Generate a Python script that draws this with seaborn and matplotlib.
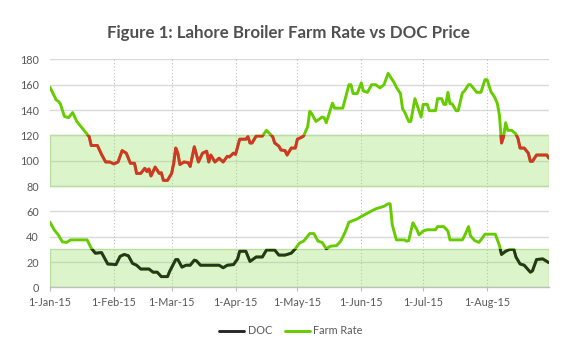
import numpy as np
import pandas as pd
import matplotlib
matplotlib.use("Agg")
import matplotlib.pyplot as plt
import matplotlib.dates as mdates
import matplotlib.transforms as mtransforms
from matplotlib.patches import Rectangle
from matplotlib.lines import Line2D
import seaborn as sns

# ---------------- data (day offsets from 1-Jan-2015) ----------------
farm_days = [0, 3, 4, 5, 7, 9, 11, 13, 15, 17, 19, 20, 23, 25, 27, 29, 31, 33, 35, 37,
             39, 41, 42, 44, 46, 47, 48, 49, 51, 53, 54, 55, 57, 59, 60, 61, 62, 63, 65, 67,
             68, 70, 72, 74, 76, 77, 78, 80, 82, 84, 86, 87, 89, 90, 92, 95, 96, 97, 98, 100,
             103, 105, 108, 109, 111, 112, 114, 115, 117, 119, 120, 122, 123, 125, 126, 127, 129, 132, 133, 134,
             137, 138, 142, 145, 146, 147, 149, 151, 152, 154, 156, 158, 160, 162, 164, 165, 167, 168, 170, 171,
             172, 174, 175, 177, 180, 181, 183, 184, 187, 188, 190, 191, 192, 193, 194, 195, 197, 198, 200, 201,
             203, 204, 207, 209, 211, 212, 214, 215, 216, 217, 218, 219, 220, 221, 222, 224, 226, 227, 228, 230,
             232, 233, 234, 236, 241, 242]
farm_rate = [158, 148, 147, 145, 135, 134, 138, 131, 127, 123, 119, 112, 112, 105, 99, 99, 97.5, 99, 108, 106,
             98, 98, 90, 90, 94, 91.5, 93.5, 88, 95, 90, 90.5, 84.5, 84.5, 90, 98, 110, 106, 97, 99, 98.5,
             95.5, 111, 99, 106, 107.5, 99, 104.5, 99, 102, 99, 103.5, 103, 106, 105, 117, 117, 119, 114, 114, 119.5,
             119.5, 124, 119, 114, 111.5, 108.5, 108, 104.5, 110, 110, 117, 118.5, 119.5, 127, 139, 137, 131, 134.5, 134, 130,
             145.5, 141.5, 141.5, 160, 160, 153, 153, 161.5, 155, 154, 160, 160, 157.5, 160, 169, 166.5, 161.5, 158, 153, 141,
             138.5, 131, 131, 149, 134.5, 144.5, 144.5, 139.5, 139.5, 149, 149, 144.5, 144.5, 154, 145, 145, 139.5, 139.5, 153.5, 155,
             160, 160, 154, 154, 164, 164, 154, 152, 149, 145, 136, 114, 119, 130, 124, 124, 121, 117.5, 110, 110,
             106, 99.5, 99.5, 104.5, 104.5, 102]

doc_days = [0, 2, 4, 6, 8, 10, 18, 20, 22, 25, 28, 32, 34, 36, 38, 40, 42, 44, 48, 50,
            52, 54, 57, 58, 61, 62, 64, 66, 68, 70, 71, 73, 82, 84, 86, 89, 91, 92, 95, 97,
            100, 103, 105, 109, 111, 114, 117, 119, 121, 123, 126, 128, 130, 132, 134, 136, 139, 141, 143, 145,
            149, 151, 155, 158, 160, 162, 164, 165, 166, 168, 172, 173, 174, 176, 178, 179, 181, 183, 187, 188,
            191, 193, 194, 200, 201, 203, 204, 206, 208, 209, 211, 216, 218, 219, 221, 223, 225, 226, 228, 230,
            233, 234, 236, 239, 242]
doc_price = [51.5, 45.5, 41.5, 36, 35.5, 37.5, 37.5, 31, 27, 27.5, 18.5, 18, 24.5, 26, 25, 19, 17.5, 14.5, 14.5, 12,
             12, 8.5, 8.5, 12.5, 22, 22, 16, 17.5, 17.5, 21.5, 21, 17.5, 17.5, 15.5, 17.5, 18, 22.5, 28.5, 28.5, 20.5,
             24, 24, 29.5, 29.5, 25.5, 25.5, 27, 30.5, 35, 36.5, 42.5, 42.5, 36.5, 35.5, 30.5, 32.5, 33, 36.5, 43, 51.5,
             54, 56, 59.5, 62, 63, 64, 66, 66, 49.5, 37.5, 37.5, 36.5, 37, 51, 45.5, 41.5, 44.5, 45.5, 45.5, 48,
             48, 44.5, 37.5, 37.5, 40.5, 48, 40.5, 37, 35.5, 37.5, 42, 42, 33, 26, 28.5, 30, 30, 24, 18.5, 17.5,
             12, 13, 22, 22.5, 19.5]

farm_band = (80, 120)
doc_band = (0, 30)
month_ticks = ["2015-01-01", "2015-02-01", "2015-03-01", "2015-04-01",
               "2015-05-01", "2015-06-01", "2015-07-01", "2015-08-01"]
x_range = ("2015-01-01", "2015-08-31")
title = "Figure 1: Lahore Broiler Farm Rate vs DOC Price"
legend_labels = ["DOC", "Farm Rate"]

# ---------------- styling ----------------
GREEN = "#66CC00"
RED = "#D5342A"
DARK = "#28351F"
TXT = "#595959"

sns.set_theme(style="white")
plt.rcParams["font.family"] = ["Lato", "DejaVu Sans"]

base = pd.Timestamp("2015-01-01")
farm = pd.DataFrame({"date": base + pd.to_timedelta(farm_days, unit="D"), "value": farm_rate})
doc = pd.DataFrame({"date": base + pd.to_timedelta(doc_days, unit="D"), "value": doc_price})

fig = plt.figure(figsize=(5.76, 3.6), dpi=100)
ax = fig.add_axes([0.0868, 0.2017, 0.953 - 0.0868, 0.835 - 0.2017])

# bands
band_face = (0.6, 0.88, 0.4, 0.34)
for lo, hi in (farm_band, doc_band):
    ax.axhspan(lo, hi, facecolor=band_face, edgecolor="#B9DEA0", linewidth=1.0, zorder=2)

trans = mtransforms.blended_transform_factory(ax.transAxes, ax.transData)

# farm rate: green everywhere, red inside band
sns.lineplot(data=farm, x="date", y="value", color=GREEN, linewidth=2.1, ax=ax, zorder=4)
sns.lineplot(data=farm, x="date", y="value", color=RED, linewidth=2.1, ax=ax, zorder=5)
clip1 = Rectangle((0, farm_band[0]), 1, farm_band[1] - farm_band[0], transform=trans)
ax.lines[-1].set_clip_path(clip1)

# DOC: green everywhere, dark inside band
sns.lineplot(data=doc, x="date", y="value", color=GREEN, linewidth=2.1, ax=ax, zorder=4)
sns.lineplot(data=doc, x="date", y="value", color=DARK, linewidth=2.1, ax=ax, zorder=5)
clip2 = Rectangle((0, doc_band[0]), 1, doc_band[1] - doc_band[0], transform=trans)
ax.lines[-1].set_clip_path(clip2)

# axes
ax.set_xlim(pd.Timestamp(x_range[0]), pd.Timestamp(x_range[1]))
ax.set_ylim(0, 180)
ax.set_yticks(np.arange(0, 181, 20))
ax.set_xticks(pd.to_datetime(month_ticks))
ax.xaxis.set_major_formatter(mdates.DateFormatter("%-d-%b-%y"))
ax.set_xlabel("")
ax.set_ylabel("")

for y in np.arange(20, 181, 20):
    ax.axhline(y, color="#D9D9D9", linewidth=1.0, zorder=1)
for d in pd.to_datetime(month_ticks[1:]):
    ax.axvline(d, color="#BFBFBF", linewidth=0.8, linestyle=(0, (1, 2)), zorder=1)

for s in ("left", "right", "top"):
    ax.spines[s].set_visible(False)
ax.spines["bottom"].set_color("#BFBFBF")
ax.spines["bottom"].set_linewidth(1.0)
ax.spines["bottom"].set_zorder(3)

ax.tick_params(axis="y", length=0, pad=8, labelsize=7.8, labelcolor=TXT)
ax.tick_params(axis="x", length=3, width=0.8, color="#BFBFBF", direction="out",
               pad=4, labelsize=7.8, labelcolor=TXT, bottom=True)

fig.text(0.5, 0.908, title, ha="center", va="center", fontsize=12.2,
         fontweight="bold", color="#505050")

handles = [Line2D([0], [0], color="#262626", linewidth=2.1),
           Line2D([0], [0], color=GREEN, linewidth=2.1)]
fig.legend(handles, legend_labels, loc="center", bbox_to_anchor=(0.505, 0.081), ncol=2,
           frameon=False, fontsize=7.8, labelcolor=TXT, handlelength=2.3,
           handletextpad=0.3, columnspacing=1.2)

fig.savefig("out.png", dpi=100)
